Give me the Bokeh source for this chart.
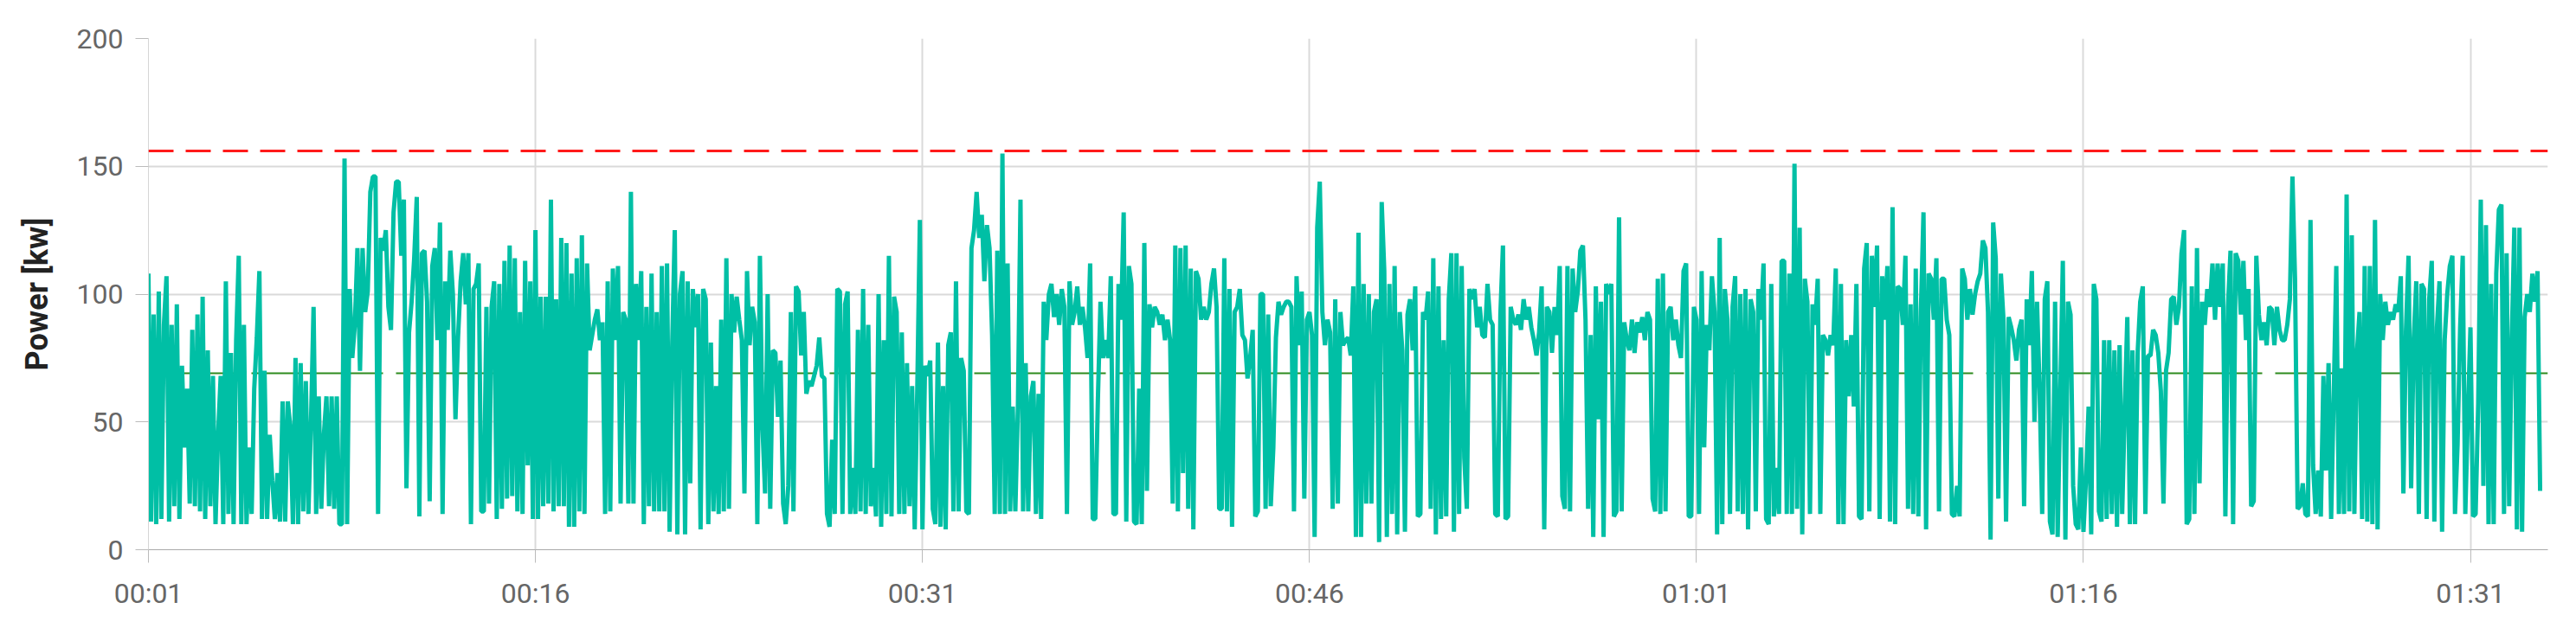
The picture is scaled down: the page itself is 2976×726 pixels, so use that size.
from bokeh.embed import file_html
from bokeh.models import FixedTicker, Range1d, Span
from bokeh.plotting import figure
from bokeh.resources import INLINE

# ride power trace, one sample every 6 s starting at minute 1
start_minute = 1
sample_seconds = 6

seg_1 = [108, 11, 92, 10, 101, 12, 88, 107, 11, 88,
         17, 96, 12, 72, 40, 63, 18, 86, 17, 92,
         15, 99, 12, 78, 17, 68, 10, 45, 68, 10,
         105, 14, 77, 10, 82, 115, 10, 88, 10, 40,
         14, 63, 83, 109, 12, 70, 12, 45, 27, 12,
         30, 11, 58, 11, 58, 48, 10, 75, 10, 73,
         15, 66, 14, 50, 95, 14, 60, 16, 45, 60,
         17, 60, 16, 60, 10, 10, 153, 10, 102, 75,
         88, 118, 70, 118, 93, 101, 140, 146, 146, 14,
         122, 117, 125, 95, 86, 132, 144, 144, 115, 137,
         24, 85, 97, 114, 138, 13, 116, 117, 97, 19,
         111, 118, 82, 128, 14, 105, 86, 117, 100, 51,
         83, 105, 116, 96, 116, 10, 102, 104, 112, 15, 15, 95, 18, 95]

seg_2 = [105, 12, 104, 16, 113, 20, 119, 21, 114, 15,
         93, 14, 113, 33, 105, 12, 125, 12, 99, 17,
         99, 18, 137, 15, 98, 17, 122, 17, 120, 9,
         108, 9, 114, 15, 123, 14, 112, 78, 84, 90,
         94, 82, 89, 14, 105, 15, 110, 82, 111, 18,
         93, 90, 18, 140, 18, 104, 82, 109, 10, 95,
         17, 108, 15, 93, 15, 111, 15, 112, 7, 80,
         125, 6, 100, 109, 6, 105, 26, 102, 87, 100,
         8, 102, 98, 10, 81, 15, 64, 14, 90, 15,
         114, 16, 100, 85, 99, 90, 82, 22, 109, 80,
         95, 89, 10, 115, 48, 22, 100, 16, 78, 77,
         52, 74, 18, 10, 25, 93, 15, 103, 101, 76,
         93, 61, 66, 64, 68, 72, 83, 68, 67, 14, 9, 43, 14, 102]

seg_3 = [101, 14, 96, 101, 14, 32, 14, 86, 15, 102,
         14, 88, 17, 32, 13, 100, 9, 82, 14, 115,
         13, 99, 93, 14, 85, 14, 73, 17, 64, 8,
         63, 129, 8, 72, 68, 74, 16, 10, 81, 9,
         64, 8, 80, 85, 15, 105, 15, 75, 70, 15,
         14, 118, 125, 140, 122, 131, 105, 127, 118, 84,
         14, 117, 14, 155, 14, 112, 15, 56, 15, 56,
         137, 15, 73, 15, 60, 66, 14, 61, 12, 97,
         82, 100, 104, 91, 100, 88, 102, 95, 14, 105,
         88, 93, 103, 88, 95, 87, 75, 112, 12, 12,
         59, 97, 75, 82, 75, 107, 14, 14, 104, 90,
         132, 11, 111, 104, 11, 10, 63, 10, 120, 23,
         96, 87, 95, 93, 88, 92, 82, 90, 82, 18, 119, 15, 118, 30]

seg_4 = [119, 16, 110, 8, 109, 106, 90, 95, 90, 93,
         104, 110, 95, 16, 16, 114, 15, 102, 9, 93,
         95, 102, 84, 82, 67, 75, 86, 13, 15, 100,
         100, 16, 92, 17, 40, 83, 97, 92, 95, 97,
         97, 95, 15, 107, 80, 101, 20, 90, 93, 84,
         5, 126, 144, 93, 80, 90, 85, 16, 98, 18,
         93, 80, 82, 83, 76, 103, 5, 124, 5, 104,
         18, 100, 18, 93, 98, 3, 136, 109, 5, 104,
         14, 111, 6, 93, 78, 7, 92, 98, 78, 103,
         13, 14, 93, 90, 101, 16, 114, 6, 103, 12,
         82, 13, 98, 116, 7, 116, 14, 111, 36, 16,
         102, 98, 102, 87, 95, 84, 83, 104, 90, 88,
         14, 13, 92, 119, 12, 13, 95, 90, 88, 92, 86, 98, 90, 95]

seg_5 = [87, 82, 76, 85, 103, 8, 95, 93, 77, 95,
         84, 111, 21, 16, 111, 15, 110, 93, 101, 117,
         119, 90, 16, 84, 5, 103, 51, 97, 5, 104,
         100, 104, 13, 15, 130, 15, 89, 82, 78, 90,
         77, 89, 85, 91, 82, 93, 90, 20, 15, 106,
         14, 108, 15, 93, 95, 82, 90, 80, 75, 109,
         112, 13, 13, 95, 90, 14, 109, 40, 88, 78,
         107, 93, 6, 122, 10, 102, 90, 14, 95, 107,
         15, 100, 14, 102, 8, 98, 93, 15, 102, 90,
         112, 12, 10, 104, 13, 32, 14, 113, 113, 14,
         108, 14, 151, 16, 126, 6, 106, 97, 14, 96,
         88, 106, 14, 84, 82, 76, 84, 80, 110, 10,
         104, 10, 82, 60, 84, 56, 104, 13, 12, 110, 120, 15, 115, 95]

seg_6 = [119, 12, 107, 90, 111, 11, 134, 10, 103, 102,
         88, 115, 16, 96, 14, 110, 13, 94, 132, 8,
         108, 106, 90, 114, 15, 106, 106, 90, 84, 14,
         13, 25, 13, 110, 106, 90, 102, 92, 100, 105,
         108, 121, 118, 93, 4, 128, 114, 20, 108, 90,
         11, 91, 87, 82, 74, 86, 90, 17, 98, 80,
         109, 50, 97, 63, 14, 98, 105, 11, 6, 97,
         5, 60, 113, 4, 97, 92, 25, 10, 8, 40,
         7, 28, 56, 6, 104, 98, 15, 11, 82, 12,
         82, 14, 78, 9, 80, 14, 55, 91, 10, 78,
         10, 77, 97, 103, 14, 76, 76, 86, 84, 77,
         62, 18, 70, 77, 98, 99, 88, 95, 116, 125,
         10, 12, 103, 14, 118, 26, 97, 88, 102, 95, 112, 90, 112, 95]

seg_7 = [112, 13, 95, 117, 10, 116, 113, 92, 113, 82,
         102, 17, 19, 115, 92, 82, 89, 80, 95, 94,
         80, 95, 86, 82, 82, 88, 98, 146, 106, 16,
         17, 26, 14, 13, 129, 33, 14, 31, 13, 68,
         31, 73, 12, 60, 111, 14, 71, 14, 139, 15,
         123, 14, 77, 93, 12, 111, 11, 111, 10, 129,
         8, 100, 82, 97, 88, 93, 90, 96, 93, 107,
         22, 86, 115, 24, 82, 105, 14, 104, 102, 12,
         98, 113, 11, 87, 105, 7, 82, 100, 111, 115,
         14, 41, 87, 115, 14, 53, 87, 13, 14, 57,
         137, 25, 127, 10, 104, 10, 108, 133, 135, 14,
         116, 17, 82, 126, 8, 126, 7, 91, 100, 93,
         108, 97, 109, 23]

power_kw = seg_1 + seg_2 + seg_3 + seg_4 + seg_5 + seg_6 + seg_7
minutes = [start_minute + i * sample_seconds / 60 for i in range(len(power_kw))]

max_power_kw = 156
avg_power_kw = 69

tick_minutes = [1, 16, 31, 46, 61, 76, 91]
tick_labels = ["00:01", "00:16", "00:31", "00:46", "01:01", "01:16", "01:31"]
y_ticks = [0, 50, 100, 150, 200]

p = figure(width=2960, height=710, output_backend="svg", toolbar_location=None,
           x_range=Range1d(1, 94), y_range=Range1d(0, 200),
           min_border_left=171, min_border_right=17, min_border_top=44, min_border_bottom=75)
p.outline_line_color = None

p.line(minutes, power_kw, line_color="#00bfa5", line_width=5)

p.add_layout(Span(location=avg_power_kw, dimension="width", line_color="#2e8b1e",
                  line_width=2, line_dash="152 15", line_dash_offset=48, level="underlay"))
p.add_layout(Span(location=max_power_kw, dimension="width", line_color="#ff1a1a",
                  line_width=3, line_dash="29 14"))

p.xaxis.ticker = FixedTicker(ticks=tick_minutes)
p.xaxis.major_label_overrides = dict(zip(tick_minutes, tick_labels))
p.yaxis.ticker = FixedTicker(ticks=y_ticks)
p.yaxis.axis_label = "Power [kw]"

for ax in (p.xaxis[0], p.yaxis[0]):
    ax.major_tick_out = 15
    ax.major_tick_in = 0
    ax.minor_tick_line_color = None
    ax.major_tick_line_color = "#bbbbbb"
    ax.major_label_text_font = "Roboto"
    ax.major_label_text_font_size = "32px"
    ax.major_label_text_color = "#666666"

p.xaxis.axis_line_color = "#aaaaaa"
p.xaxis.major_label_standoff = 16
p.yaxis.axis_line_color = "#d6d6d6"
p.yaxis.major_label_standoff = 14
p.yaxis.axis_label_text_font = "Roboto"
p.yaxis.axis_label_text_font_size = "36px"
p.yaxis.axis_label_text_font_style = "bold"
p.yaxis.axis_label_text_color = "#222222"
p.yaxis.axis_label_standoff = 22

p.xgrid.grid_line_color = "#dadada"
p.ygrid.grid_line_color = "#dadada"
p.xgrid.grid_line_width = 2
p.ygrid.grid_line_width = 2

open("out.html", "w").write(file_html(p, INLINE))
